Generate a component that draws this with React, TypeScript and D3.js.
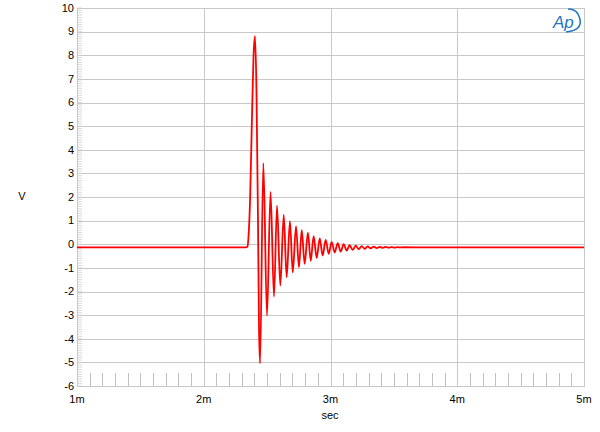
import React from "react";
import * as d3 from "d3";

// time in ms, value in V (extrema)
const timesMs = [
  1.0, 2.333, 2.345, 2.353, 2.365, 2.381, 2.393, 2.404, 2.416, 2.428,
  2.436, 2.444, 2.470, 2.499, 2.527, 2.554, 2.578, 2.604, 2.631, 2.654,
  2.680, 2.702, 2.728, 2.751, 2.773, 2.796, 2.822, 2.844, 2.867, 2.891,
  2.915, 2.938, 2.962, 2.986, 3.009, 3.033, 3.057, 3.080, 3.104, 3.128,
  3.151, 3.175, 3.199, 3.222, 3.246, 3.270, 3.293, 3.317, 3.341, 3.364,
  3.388, 3.412, 3.435, 3.459, 3.483, 3.507, 3.530, 3.554, 3.578, 3.746,
  5.0,
];
const volts = [
  -0.13, -0.13, -0.1, 0.3, 1.8, 5.5, 8.0, 8.81, 6.5, 1.0,
  -3.5, -5.04, 3.43, -3.02, 2.22, -2.22, 1.63, -1.75, 1.24, -1.40,
  0.98, -1.19, 0.76, -0.98, 0.60, -0.83, 0.49, -0.70, 0.34, -0.58,
  0.25, -0.48, 0.18, -0.41, 0.10, -0.35, 0.05, -0.31, 0.0, -0.27,
  -0.04, -0.24, -0.06, -0.21, -0.08, -0.19, -0.09, -0.17, -0.10, -0.16,
  -0.11, -0.15, -0.115, -0.145, -0.12, -0.14, -0.125, -0.135, -0.128, -0.13,
  -0.13,
];

const yTicks = [-6, -5, -4, -3, -2, -1, 0, 1, 2, 3, 4, 5, 6, 7, 8, 9, 10];
const xTicks = [1, 2, 3, 4, 5];
const xTickLabels = ["1m", "2m", "3m", "4m", "5m"];

export default function App() {
  const W = 600, H = 432;
  const left = 77, right = 584, top = 8, bottom = 386;
  const x = d3.scaleLinear().domain([1, 5]).range([left, right]);
  const y = d3.scaleLinear().domain([-6, 10]).range([bottom, top]);

  const pts: [number, number][] = timesMs.map((t, i) => [t, volts[i]]);
  const line = d3
    .line<[number, number]>()
    .x((d) => x(d[0]))
    .y((d) => y(d[1]))
    .curve(d3.curveMonotoneX);

  const yMinor = d3.range(-60, 101).map((v) => v / 10);
  const xMinor = d3.range(10, 51).map((v) => v / 10).filter((v) => Math.abs(v - Math.round(v)) > 1e-6);

  const grid = "#c8c8c8";
  const font = "Arial, 'Liberation Sans', sans-serif";

  return (
    <svg width={W} height={H} style={{ position: "absolute", left: 0, top: 0, background: "#fff" }}>
      <rect x={0} y={0} width={W} height={H} fill="#fff" />
      {yTicks.map((v) => (
        <line key={"gy" + v} x1={left} x2={right} y1={Math.round(y(v)) + 0.5} y2={Math.round(y(v)) + 0.5} stroke={grid} strokeWidth={1} />
      ))}
      {xTicks.map((v) => (
        <line key={"gx" + v} x1={Math.round(x(v)) + 0.5} x2={Math.round(x(v)) + 0.5} y1={top} y2={bottom} stroke={grid} strokeWidth={1} />
      ))}
      {yMinor.map((v, i) => (
        <line key={"my" + i} x1={left} x2={left + 5} y1={y(v)} y2={y(v)} stroke="#d0d0d0" strokeWidth={0.8} />
      ))}
      {xMinor.map((v, i) => (
        <line key={"mx" + i} x1={Math.round(x(v)) + 0.5} x2={Math.round(x(v)) + 0.5} y1={bottom - 13} y2={bottom} stroke="#c0c0c0" strokeWidth={1} />
      ))}
      <rect x={left + 0.5} y={top + 0.5} width={right - left} height={bottom - top} fill="none" stroke={grid} strokeWidth={1} />
      {yTicks.map((v) => (
        <text key={"ly" + v} x={left - 3} y={y(v)} dy="0.35em" textAnchor="end" fontFamily={font} fontSize={11} fill="#000">
          {v}
        </text>
      ))}
      {xTicks.map((v, i) => (
        <text key={"lx" + v} x={x(v)} y={bottom + 17} textAnchor="middle" fontFamily={font} fontSize={11} fill="#000">
          {xTickLabels[i]}
        </text>
      ))}
      <text x={22} y={200} textAnchor="middle" fontFamily={font} fontSize={11} fill="#000">V</text>
      <text x={330} y={419} textAnchor="middle" fontFamily={font} fontSize={11} fill="#000">sec</text>
      <path d={line(pts) || ""} fill="none" stroke="#ff0000" strokeWidth={1.8} strokeLinejoin="round" />
      <g>
        <text x={553} y={28} fontFamily={font} fontSize={17} fontStyle="italic" fill="#1f78c1">Ap</text>
        <path d="M 566 32 Q 586 30 578 14 Q 575 9 568 9" fill="none" stroke="#1f78c1" strokeWidth={1.6} />
      </g>
    </svg>
  );
}
